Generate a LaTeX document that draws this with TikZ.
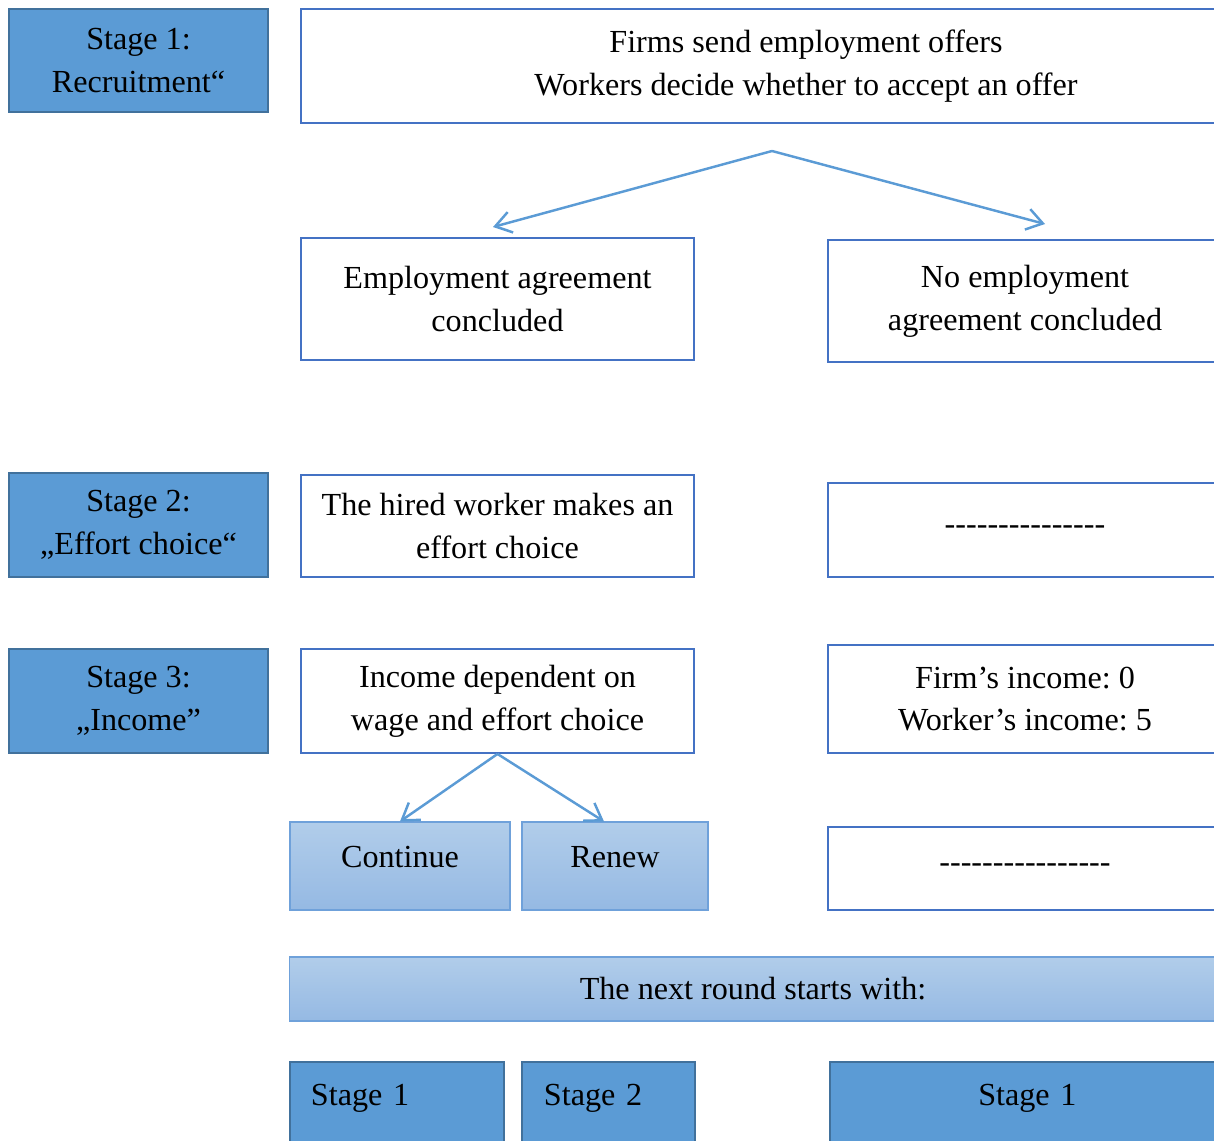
\documentclass[tikz,border=0pt]{standalone}
\usepackage{fontspec}
\setmainfont{Liberation Serif}[Ligatures=TeXOff]
\usetikzlibrary{arrows.meta}
\frenchspacing

\definecolor{stageblue}{RGB}{91,155,213}
\definecolor{stageedge}{RGB}{65,113,156}
\definecolor{boxedge}{RGB}{68,114,196}
\definecolor{choicetop}{RGB}{177,205,234}
\definecolor{choicebottom}{RGB}{149,185,227}
\definecolor{choiceedge}{RGB}{111,161,218}

\tikzset{
  stagebox/.style={draw=stageedge, fill=stageblue, line width=1.1pt, minimum width=5.18cm, minimum height=2.08cm, align=center, inner sep=0pt},
  eventbox/.style={draw=boxedge, fill=white, line width=1.1pt, align=center, inner sep=0pt},
  choicebox/.style={draw=choiceedge, top color=choicetop, bottom color=choicebottom, line width=0.6pt, align=center, inner sep=0pt},
  nextbox/.style={draw=stageedge, fill=stageblue, line width=1.1pt, anchor=north west, text height=0.88cm, text depth=1cm, inner ysep=0pt},
  flow/.style={draw=stageblue, line width=1.4pt, -{Straight Barb[length=9pt,width=12pt]}}
}

\begin{document}
\begin{tikzpicture}[x=0.02cm, y=-0.02cm, font=\fontsize{18.3}{24.4}\selectfont]
\useasboundingbox (0,0) rectangle (1214,1140);
\clip (0,0) rectangle (1214,1140);

% stages on the left
\node[stagebox, minimum height=2.06cm] (stageA) at (138.5,60.5) {Stage 1:\\Recruitment“};
\node[stagebox] (stageB) at (138.5,525) {Stage 2:\\„Effort choice“};
\node[stagebox] (stageC) at (138.5,701) {Stage 3:\\„Income”};

% stage 1
\node[eventbox, minimum width=20.2cm, minimum height=2.28cm] (offers) at (806,66) {Firms send employment offers\\Workers decide whether to accept an offer};
\coordinate (fork) at (772,151);
\coordinate (tipL) at (493,227);
\coordinate (tipR) at (1045,224);
\node[eventbox, minimum width=7.86cm, minimum height=2.44cm] (agree) at (497.5,299) {Employment agreement\\concluded};
\node[eventbox, minimum width=7.9cm, minimum height=2.44cm] (noagree) at (1025,301) {No employment\\agreement concluded};
\draw[flow] (fork) -- (tipL);
\draw[flow] (fork) -- (tipR);

% stage 2
\node[eventbox, minimum width=7.86cm, minimum height=2.04cm] (hired) at (497.5,526) {The hired worker makes an\\effort choice};
\node[eventbox, minimum width=7.9cm, minimum height=1.88cm] (emptyB) at (1025,530) {---------------};

% stage 3
\node[eventbox, minimum width=7.86cm, minimum height=2.08cm] (income) at (497.5,701) {Income dependent on\\wage and effort choice};
\node[eventbox, minimum width=7.9cm, minimum height=2.16cm] (payoff) at (1025,699) {Firm’s income: 0\\Worker’s income: 5};

\node[choicebox, minimum width=4.4cm, minimum height=1.76cm, text depth=0.35cm] (continue) at (400,866) {Continue};
\node[choicebox, minimum width=3.72cm, minimum height=1.76cm, text depth=0.35cm] (renew) at (615,866) {Renew};
\node[eventbox, minimum width=7.9cm, minimum height=1.66cm] (emptyC) at (1025,868.5) {----------------};
\draw[flow] (income.south) -- (continue.north);
\draw[flow] (income.south) -- ([xshift=-0.22cm]renew.north);

% next round
\node[choicebox, minimum width=18.56cm, minimum height=1.28cm] (nextround) at (753,989) {The next round starts with:};
\node[nextbox, text width=3.44cm, inner xsep=0.42cm, align=left] (nextA) at (289,1061) {Stage 1};
\node[nextbox, text width=2.58cm, inner xsep=0.44cm, align=left] (nextB) at (521,1061) {Stage 2};
\node[nextbox, text width=7.9cm, inner xsep=0pt, align=center] (nextC) at (829,1061) {Stage 1};
\end{tikzpicture}
\end{document}
